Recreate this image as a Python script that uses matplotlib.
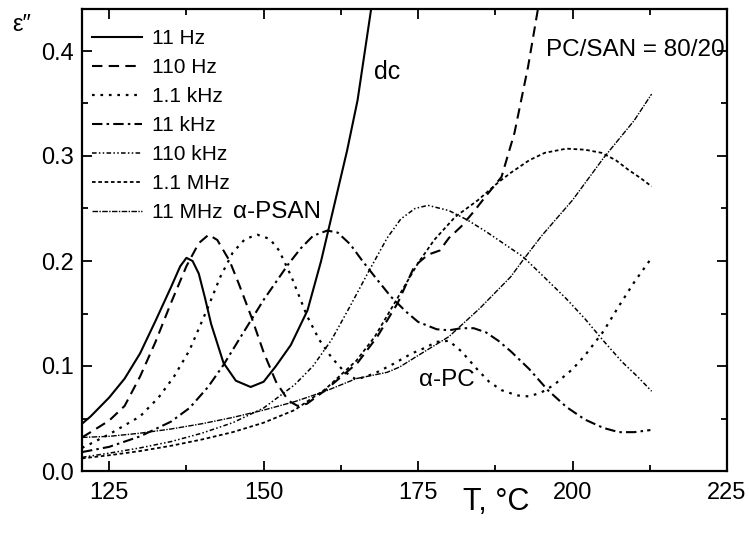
import matplotlib
matplotlib.use("Agg")
import matplotlib.pyplot as plt
from matplotlib.ticker import MultipleLocator, FormatStrFormatter

plt.rcParams['font.family'] = ['Liberation Sans', 'DejaVu Sans']

# ---------------- data ----------------
T_11Hz = [120.6, 122, 125, 127.5, 130, 132.5, 135, 136.5, 137.5, 138.5, 139.5, 140.5, 141.5,
          143.5, 145.5, 147.9, 150, 152, 154.4, 157.1, 159.3, 160.5, 161.7, 163.5, 165.2, 167.4]
E_11Hz = [0.045, 0.052, 0.070, 0.088, 0.112, 0.143, 0.175, 0.195, 0.203, 0.200, 0.188, 0.165, 0.140,
          0.103, 0.086, 0.080, 0.085, 0.100, 0.120, 0.153, 0.200, 0.230, 0.260, 0.305, 0.353, 0.440]

T_110Hz = [120.6, 122, 125, 127.5, 130, 132.5, 135, 137.5, 139.5, 141.1, 142.5, 144.5, 146, 148,
           150, 152, 154, 155.5, 157, 160, 163, 165.2, 168.4, 171.7, 174.4, 176.6, 178.5, 180,
           182, 184, 186, 188.5, 190.6, 192.8, 194.4]
E_110Hz = [0.032, 0.037, 0.048, 0.062, 0.090, 0.123, 0.160, 0.195, 0.217, 0.225, 0.220, 0.200, 0.178, 0.147,
           0.113, 0.085, 0.067, 0.062, 0.064, 0.077, 0.092, 0.103, 0.128, 0.160, 0.195, 0.206, 0.210, 0.222,
           0.233, 0.247, 0.262, 0.280, 0.322, 0.385, 0.440]

T_1k1Hz = [120.6, 122, 125, 130, 133, 135.5, 138, 141, 143, 145, 147, 149, 151, 152.5, 154.5, 157,
           159, 161, 163, 165, 168, 171, 174, 176, 178, 180, 182, 184.7, 186.5, 188.5, 191, 193,
           195, 197, 200, 202, 205, 207.5, 210, 212.8]
E_1k1Hz = [0.022, 0.026, 0.035, 0.052, 0.070, 0.090, 0.115, 0.156, 0.185, 0.208, 0.221, 0.225, 0.221, 0.210, 0.185, 0.148,
           0.125, 0.108, 0.095, 0.087, 0.093, 0.102, 0.112, 0.117, 0.123, 0.124, 0.114, 0.096, 0.085, 0.077, 0.072, 0.071,
           0.075, 0.082, 0.097, 0.110, 0.133, 0.157, 0.180, 0.203]

T_11kHz = [120.6, 125, 130, 135, 138, 141, 143.5, 146, 148, 150, 152, 154, 156, 158, 160.3, 162,
           164, 166, 168, 170.6, 173, 175, 178, 180, 182, 184, 186, 188, 190, 193, 196, 199, 202,
           205, 207.5, 210, 212.6]
E_11kHz = [0.018, 0.023, 0.033, 0.047, 0.060, 0.080, 0.101, 0.125, 0.144, 0.163, 0.180, 0.197, 0.212, 0.224, 0.229, 0.227,
           0.216, 0.200, 0.185, 0.166, 0.152, 0.142, 0.135, 0.134, 0.136, 0.136, 0.132, 0.124, 0.114, 0.097, 0.077, 0.061, 0.049,
           0.041, 0.037, 0.037, 0.039]

T_110kHz = [120.6, 125, 130, 135, 140, 145, 150, 155, 158, 161, 164, 167, 170, 172.2, 174.5, 176.6,
            180, 183, 186, 189, 192, 195, 199, 202, 205, 208, 210.5, 212.8]
E_110kHz = [0.013, 0.017, 0.022, 0.028, 0.036, 0.046, 0.060, 0.082, 0.100, 0.125, 0.157, 0.190, 0.222, 0.240, 0.250, 0.253,
            0.248, 0.239, 0.228, 0.216, 0.204, 0.187, 0.164, 0.145, 0.124, 0.104, 0.090, 0.076]

T_1M1Hz = [120.6, 125, 130, 135, 140, 145, 150, 155, 160, 165, 168, 172, 175, 177.6, 181, 184.7,
           188, 190, 193, 195.5, 199, 202, 204.7, 207, 209, 211, 212.8]
E_1M1Hz = [0.012, 0.015, 0.019, 0.024, 0.030, 0.037, 0.046, 0.058, 0.078, 0.105, 0.128, 0.168, 0.198, 0.220, 0.242, 0.258,
           0.275, 0.284, 0.296, 0.303, 0.307, 0.306, 0.303, 0.296, 0.287, 0.279, 0.271]

T_11MHz = [120.6, 125, 130, 135, 140, 145, 150, 155, 160, 165, 170, 172, 175, 180, 185, 190, 192,
           195, 200, 205, 210, 212.8]
E_11MHz = [0.032, 0.033, 0.036, 0.040, 0.045, 0.051, 0.058, 0.066, 0.076, 0.088, 0.094, 0.099, 0.110, 0.128, 0.155, 0.185, 0.201,
           0.224, 0.258, 0.298, 0.334, 0.359]

labels = ["11 Hz", "110 Hz", "1.1 kHz", "11 kHz", "110 kHz", "1.1 MHz", "11 MHz"]

# ---------------- figure ----------------
fig = plt.figure(figsize=(7.49, 5.33), dpi=100)
ax = fig.add_axes([82/749, 1 - 471/533, (727-82)/749, (471-9)/533])

series = [(T_11Hz, E_11Hz), (T_110Hz, E_110Hz), (T_1k1Hz, E_1k1Hz), (T_11kHz, E_11kHz),
          (T_110kHz, E_110kHz), (T_1M1Hz, E_1M1Hz), (T_11MHz, E_11MHz)]
styles = [
    dict(linestyle='-', linewidth=1.5),
    dict(linestyle=(0, (5, 3)), linewidth=1.5),
    dict(linestyle=(0, (1.2, 2.6)), linewidth=1.6),
    dict(linestyle=(0, (5, 2, 1.2, 2)), linewidth=1.5),
    dict(linestyle=(0, (3, 1.5, 1, 1.5, 1, 1.5)), linewidth=1.1),
    dict(linestyle=(0, (2, 1.5)), linewidth=1.3),
    dict(linestyle=(0, (4, 1, 1, 1)), linewidth=1.0),
]
for (t, e), st, lab in zip(series, styles, labels):
    ax.plot(t, e, color='black', label=lab, **st)

ax.set_xlim(120.6, 225)
ax.set_ylim(0, 0.44)
ax.xaxis.set_major_locator(MultipleLocator(25))
ax.xaxis.set_minor_locator(MultipleLocator(12.5))
ax.yaxis.set_major_locator(MultipleLocator(0.1))
ax.yaxis.set_minor_locator(MultipleLocator(0.05))
ax.tick_params(which='both', direction='in', top=True, right=True, width=1.3, labelsize=17)
ax.tick_params(axis='x', which='both', pad=8)
ax.tick_params(axis='y', which='both', pad=6)
ax.tick_params(which='major', length=7)
ax.tick_params(which='minor', length=4)
ax.yaxis.set_major_formatter(FormatStrFormatter('%.1f'))
for s in ax.spines.values():
    s.set_linewidth(1.6)

leg = ax.legend(loc='upper left', frameon=False, fontsize=15, handlelength=2.4,
                handletextpad=0.45, labelspacing=0.48, borderaxespad=0.1,
                bbox_to_anchor=(0.0, 1.0 - 10/462))

ax.text(167.9, 0.380, "dc", fontsize=18, va='center')
ax.text(224.6, 0.401, "PC/SAN = 80/20", fontsize=17.5, ha='right', va='center')
ax.text(145.1, 0.247, "α-PSAN", fontsize=17.5, va='center')
ax.text(175.2, 0.087, "α-PC", fontsize=17.5, va='center')

fig.text(496/749, 1 - 502/533, "T, °C", fontsize=22, ha='center', va='center')
fig.text(22/749, 1 - 25/533, "ε″", fontsize=17, ha='center', va='center')

fig.savefig("out.png", dpi=100)
